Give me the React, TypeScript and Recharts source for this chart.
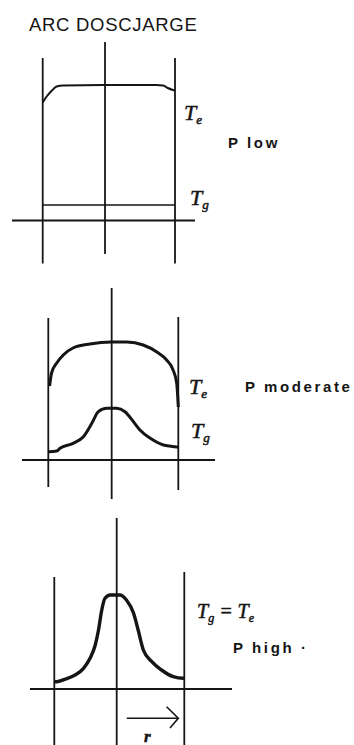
import { LineChart, Line, XAxis, YAxis, ReferenceLine } from 'recharts';

// r: radial position, walls of the tube at -1 and +1
// T: temperature, arbitrary units, 0 = the drawn baseline

// low pressure
const rLowTe = [-1, -0.99, -0.94, -0.86, -0.79, -0.69, -0.09, 0.72, 0.82, 0.89, 0.97, 1];
const teLow = [1.18, 1.19, 1.24, 1.3, 1.34, 1.35, 1.355, 1.355, 1.35, 1.325, 1.305, 1.3];
const rLowTg = [-1, 1];
const tgLow = [0.155, 0.155];

// moderate pressure
const rModTe = [-0.98, -0.95, -0.87, -0.77, -0.62, -0.36, -0.03, 0.21, 0.46, 0.67, 0.82, 0.92, 0.975, 1];
const teMod = [0.74, 0.87, 0.97, 1.05, 1.12, 1.16, 1.18, 1.18, 1.15, 1.08, 1.0, 0.9, 0.77, 0.53];
const rModTg = [-1, -0.87, -0.82, -0.62, -0.46, -0.33, -0.23, -0.1, 0.05, 0.18, 0.31, 0.41, 0.57, 0.77, 0.95, 1];
const tgMod = [0.083, 0.09, 0.117, 0.167, 0.233, 0.367, 0.483, 0.517, 0.517, 0.483, 0.383, 0.3, 0.217, 0.15, 0.133, 0.13];

// high pressure (Tg = Te)
const rHigh = [-1, -0.96, -0.84, -0.68, -0.55, -0.45, -0.37, -0.32, -0.27, -0.22, -0.14, 0.01, 0.11, 0.22, 0.29, 0.37, 0.5, 0.65, 0.83, 0.985, 1];
const tHigh = [0.075, 0.073, 0.097, 0.14, 0.207, 0.307, 0.44, 0.59, 0.79, 0.907, 0.94, 0.94, 0.89, 0.757, 0.59, 0.39, 0.273, 0.19, 0.123, 0.107, 0.107];

// drawn guide lines: [bottom T, top T] for left wall, centre line, right wall
const wallsLow = [[-0.43, 1.625], [-0.335, 1.785], [-0.43, 1.625]];
const wallsMod = [[-0.27, 1.42], [-0.39, 1.72], [-0.3, 1.43]];
const wallsHigh = [[-0.56, 1.12], [-0.56, 1.71], [-0.56, 1.17]];
const centreR = [-0.058, -0.025, -0.04];
const baseLow = [-1.464, 1.302];
const baseMod = [-1.405, 1.565];
const baseHigh = [-1.374, 1.734];
const arrowR = [0.114, 0.908];
const arrowT = -0.293;
const arrowHead = [[0.728, -0.177], [0.908, -0.293], [0.78, -0.39]];

const W = 354;
const PX_PER_T = 100;
const ink = '#151515';

const zip = (r: number[], t: number[]) => r.map((v, i) => ({ r: v, t: t[i] }));

interface Series {
  data: { r: number; t: number }[];
  width: number;
}

interface PanelProps {
  top: number;
  height: number;
  leftWall: number;
  rightWall: number;
  axisY: number;
  walls: number[][];
  centre: number;
  base: number[];
  series: Series[];
  arrow?: boolean;
}

function Panel({ top, height, leftWall, rightWall, axisY, walls, centre, base, series, arrow }: PanelProps) {
  const s = (rightWall - leftWall) / 2;
  const mid = (leftWall + rightWall) / 2;
  const xDomain = [-mid / s, (W - mid) / s];
  const yMax = axisY / PX_PER_T;
  const yDomain = [yMax - height / PX_PER_T, yMax];
  const wallX = [-1, centre, 1];
  return (
    <div style={{ position: 'absolute', left: 0, top }}>
      <LineChart width={W} height={height} margin={{ top: 0, right: 0, bottom: 0, left: 0 }}>
        <XAxis type="number" dataKey="r" domain={xDomain} hide allowDataOverflow />
        <YAxis type="number" dataKey="t" domain={yDomain} hide allowDataOverflow />
        {walls.map(([lo, hi], i) => (
          <ReferenceLine
            key={i}
            segment={[{ x: wallX[i], y: lo }, { x: wallX[i], y: hi }]}
            stroke={ink}
            strokeWidth={1.8}
            ifOverflow="visible"
          />
        ))}
        <ReferenceLine
          segment={[{ x: base[0], y: 0 }, { x: base[1], y: 0 }]}
          stroke={ink}
          strokeWidth={1.8}
          ifOverflow="visible"
        />
        {arrow && (
          <ReferenceLine
            segment={[{ x: arrowR[0], y: arrowT }, { x: arrowR[1], y: arrowT }]}
            stroke={ink}
            strokeWidth={1.6}
            ifOverflow="visible"
          />
        )}
        {arrow && (
          <Line
            data={arrowHead.map(([r, t]) => ({ r, t }))}
            dataKey="t"
            type="linear"
            stroke={ink}
            strokeWidth={1.6}
            dot={false}
            activeDot={false}
            isAnimationActive={false}
          />
        )}
        {series.map((sr, i) => (
          <Line
            key={i}
            data={sr.data}
            dataKey="t"
            type="monotone"
            stroke={ink}
            strokeWidth={sr.width}
            dot={false}
            activeDot={false}
            isAnimationActive={false}
          />
        ))}
      </LineChart>
    </div>
  );
}

const sans = '"Liberation Sans", Arial, sans-serif';
const serif = '"Liberation Serif", "Times New Roman", serif';
const tStyle = {
  fontFamily: serif,
  fontStyle: 'italic' as const,
  fontSize: 22,
  fill: ink,
  stroke: ink,
  strokeWidth: 0.5,
};
const pStyle = { fontFamily: sans, fontWeight: 700, fontSize: 15, letterSpacing: 2.6, fill: ink };

function Sym({ x, y, sub, size = 22 }: { x: number; y: number; sub: string; size?: number }) {
  return (
    <text x={x} y={y} style={{ ...tStyle, fontSize: size }}>
      T<tspan dy={4} fontSize={size * 0.6}>{sub}</tspan>
    </text>
  );
}

export default function App() {
  return (
    <div style={{ position: 'absolute', left: 0, top: 0, width: W, height: 745, background: '#fff' }}>
      <Panel
        top={0}
        height={265}
        leftWall={42.7}
        rightWall={175}
        axisY={220.5}
        walls={wallsLow}
        centre={centreR[0]}
        base={baseLow}
        series={[
          { data: zip(rLowTe, teLow), width: 2 },
          { data: zip(rLowTg, tgLow), width: 1.7 },
        ]}
      />
      <Panel
        top={265}
        height={235}
        leftWall={48.3}
        rightWall={178.3}
        axisY={195}
        walls={wallsMod}
        centre={centreR[1]}
        base={baseMod}
        series={[
          { data: zip(rModTe, teMod), width: 3 },
          { data: zip(rModTg, tgMod), width: 3 },
        ]}
      />
      <Panel
        top={500}
        height={245}
        leftWall={54.3}
        rightWall={184.3}
        axisY={189}
        walls={wallsHigh}
        centre={centreR[2]}
        base={baseHigh}
        series={[{ data: zip(rHigh, tHigh), width: 3.4 }]}
        arrow
      />
      <svg
        width={W}
        height={745}
        style={{ position: 'absolute', left: 0, top: 0, pointerEvents: 'none' }}
      >
        <text x={29} y={31} style={{ fontFamily: sans, fontSize: 18.5, letterSpacing: 0.7, fill: ink }}>
          ARC DOSCJARGE
        </text>
        <Sym x={184} y={120} sub="e" />
        <Sym x={190} y={205} sub="g" />
        <text x={228} y={148} style={pStyle}>P low</text>
        <Sym x={189} y={394} sub="e" />
        <Sym x={191} y={438} sub="g" />
        <text x={245} y={392} style={pStyle}>P moderate</text>
        <text x={197} y={618} style={{ ...tStyle, fontSize: 20 }}>
          T<tspan dy={4} fontSize={12}>g</tspan>
          <tspan dy={-4}> = T</tspan>
          <tspan dy={4} fontSize={12}>e</tspan>
        </text>
        <text x={233} y={653} style={pStyle}>P high ·</text>
        <text x={144} y={742} style={{ ...tStyle, fontSize: 17, fontWeight: 700 }}>r</text>
      </svg>
    </div>
  );
}
